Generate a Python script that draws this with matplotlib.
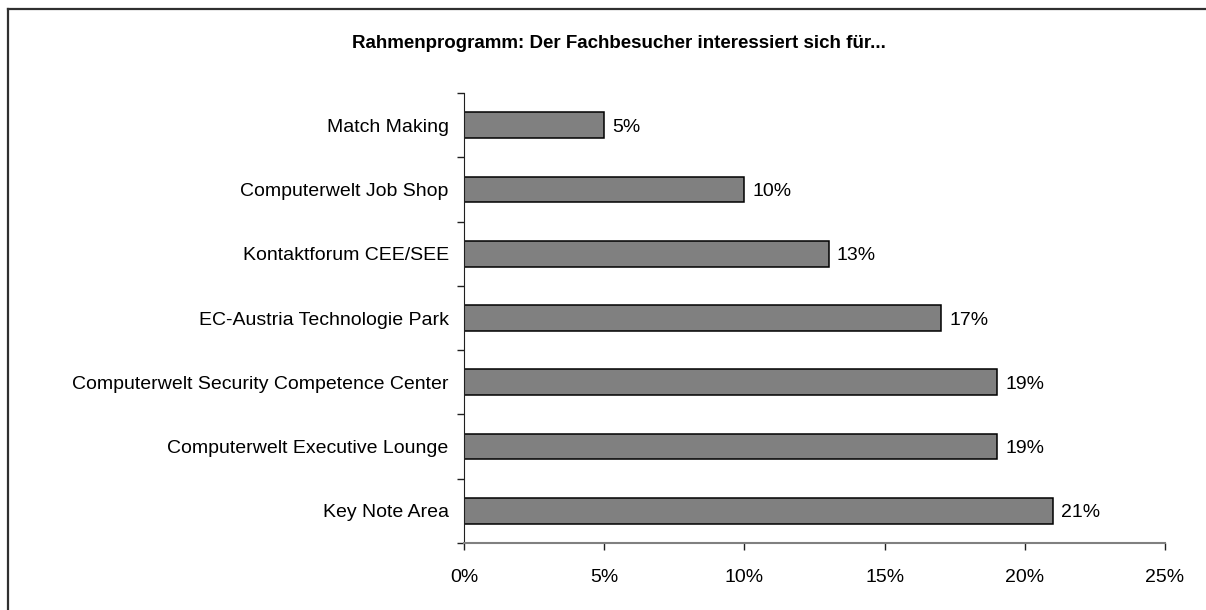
import numpy as np
import matplotlib.pyplot as plt
from matplotlib.lines import Line2D
from matplotlib.ticker import FixedLocator, PercentFormatter

plt.rcParams['font.family'] = ['Liberation Sans', 'DejaVu Sans']

categories = ["Key Note Area",
              "Computerwelt Executive Lounge",
              "Computerwelt Security Competence Center",
              "EC-Austria Technologie Park",
              "Kontaktforum CEE/SEE",
              "Computerwelt Job Shop",
              "Match Making"]
values = [21, 19, 19, 17, 13, 10, 5]
xticks = [0, 5, 10, 15, 20, 25]
title = "Rahmenprogramm: Der Fachbesucher interessiert sich für..."

W, H = 1206, 610
fig = plt.figure(figsize=(W / 100, H / 100), dpi=100)
ax = fig.add_axes([464 / W, 1 - 543 / H, (1165 - 464) / W, (543 - 93) / H])

fs = 14
y = np.arange(len(categories))
bars = ax.barh(y, values, height=0.4, color="#808080", edgecolor="black", linewidth=1.1)
for b, v in zip(bars, values):
    ax.text(b.get_width() + 0.3, b.get_y() + b.get_height() / 2, f"{v}%",
            va="center_baseline", ha="left", fontsize=fs)

ax.set_xlim(0, 25)
ax.set_ylim(-0.5, len(categories) - 0.5)
ax.set_xticks(xticks)
ax.xaxis.set_major_formatter(PercentFormatter(decimals=0))
ax.set_yticks(y)
ax.set_yticklabels(categories, va="center_baseline")
ax.yaxis.set_minor_locator(FixedLocator(np.arange(-0.5, len(categories), 1.0)))
ax.tick_params(axis="y", which="major", length=0, pad=11, labelsize=fs)
ax.tick_params(axis="y", which="minor", length=5, width=1, color="#202020")
ax.tick_params(axis="x", length=5, width=1, color="#202020", pad=14, labelsize=fs)

for s in ["top", "right"]:
    ax.spines[s].set_visible(False)
ax.spines["left"].set_color("#202020")
ax.spines["bottom"].set_color("#808080")
ax.spines["bottom"].set_linewidth(1.5)

fig.text(619 / W, 1 - 43 / H, title, ha="center", va="center",
         fontsize=13.5, fontweight="bold")

# outer frame (only left and top visible in the crop)
fig.add_artist(Line2D([7.5 / W, 7.5 / W], [0, 1 - 8.5 / H], color="#303030", lw=1.6))
fig.add_artist(Line2D([7.5 / W, 1], [1 - 8.5 / H, 1 - 8.5 / H], color="#303030", lw=1.6))

fig.savefig("out.png", dpi=100)
